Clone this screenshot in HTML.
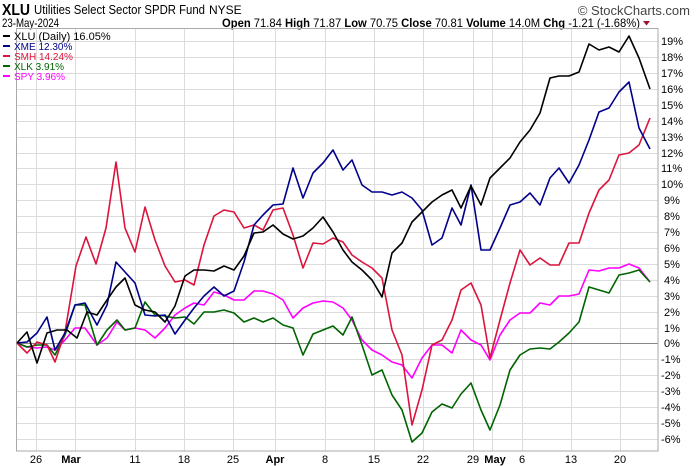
<!DOCTYPE html>
<html><head><style>
body{margin:0;background:#fff;}
svg{display:block;font-family:"Liberation Sans",sans-serif;}
</style></head><body>
<svg width="700" height="466" viewBox="0 0 700 466" xmlns="http://www.w3.org/2000/svg">
<rect width="700" height="466" fill="#fff"/>
<text x="2" y="15" font-size="16" font-weight="bold" fill="#000" textLength="28" lengthAdjust="spacingAndGlyphs">XLU</text>
<text x="34" y="14" font-size="13" fill="#000" textLength="171" lengthAdjust="spacingAndGlyphs">Utilities Select Sector SPDR Fund</text>
<text x="209" y="14" font-size="12" fill="#000">NYSE</text>
<text x="690" y="15" font-size="13" fill="#444" text-anchor="end">© StockCharts.com</text>
<text x="2" y="27" font-size="12" fill="#000" textLength="57" lengthAdjust="spacingAndGlyphs">23-May-2024</text>
<text x="222" y="27" font-size="12" fill="#000" textLength="418" lengthAdjust="spacingAndGlyphs"><tspan font-weight="bold">Open</tspan> 71.84 <tspan font-weight="bold">High</tspan> 71.87 <tspan font-weight="bold">Low</tspan> 70.75 <tspan font-weight="bold">Close</tspan> 70.81 <tspan font-weight="bold">Volume</tspan> 14.0M <tspan font-weight="bold">Chg</tspan> -1.21 (-1.68%)</text>
<path d="M643 21 l7 0 l-3.5 4.5z" fill="#a01030"/>
<g stroke="#dcdcdc" stroke-width="1">
<line x1="16" x2="658" y1="41.5" y2="41.5"/><line x1="16" x2="658" y1="57.5" y2="57.5"/><line x1="16" x2="658" y1="73.5" y2="73.5"/><line x1="16" x2="658" y1="89.5" y2="89.5"/><line x1="16" x2="658" y1="105.5" y2="105.5"/><line x1="16" x2="658" y1="121.5" y2="121.5"/><line x1="16" x2="658" y1="137.5" y2="137.5"/><line x1="16" x2="658" y1="153.5" y2="153.5"/><line x1="16" x2="658" y1="168.5" y2="168.5"/><line x1="16" x2="658" y1="184.5" y2="184.5"/><line x1="16" x2="658" y1="200.5" y2="200.5"/><line x1="16" x2="658" y1="216.5" y2="216.5"/><line x1="16" x2="658" y1="232.5" y2="232.5"/><line x1="16" x2="658" y1="248.5" y2="248.5"/><line x1="16" x2="658" y1="264.5" y2="264.5"/><line x1="16" x2="658" y1="280.5" y2="280.5"/><line x1="16" x2="658" y1="296.5" y2="296.5"/><line x1="16" x2="658" y1="312.5" y2="312.5"/><line x1="16" x2="658" y1="328.5" y2="328.5"/><line x1="16" x2="658" y1="359.5" y2="359.5"/><line x1="16" x2="658" y1="375.5" y2="375.5"/><line x1="16" x2="658" y1="391.5" y2="391.5"/><line x1="16" x2="658" y1="407.5" y2="407.5"/><line x1="16" x2="658" y1="423.5" y2="423.5"/><line x1="16" x2="658" y1="439.5" y2="439.5"/>
<line x1="36.5" x2="36.5" y1="28" y2="451"/><line x1="75.5" x2="75.5" y1="28" y2="451"/><line x1="135.5" x2="135.5" y1="28" y2="451"/><line x1="184.5" x2="184.5" y1="28" y2="451"/><line x1="233.5" x2="233.5" y1="28" y2="451"/><line x1="275.5" x2="275.5" y1="28" y2="451"/><line x1="325.5" x2="325.5" y1="28" y2="451"/><line x1="374.5" x2="374.5" y1="28" y2="451"/><line x1="423.5" x2="423.5" y1="28" y2="451"/><line x1="473.5" x2="473.5" y1="28" y2="451"/><line x1="492.5" x2="492.5" y1="28" y2="451"/><line x1="522.5" x2="522.5" y1="28" y2="451"/><line x1="571.5" x2="571.5" y1="28" y2="451"/><line x1="620.5" x2="620.5" y1="28" y2="451"/>
</g>
<line x1="16" x2="658" y1="343.5" y2="343.5" stroke="#888"/>
<rect x="16.5" y="28.5" width="641.5" height="422.5" fill="none" stroke="#aaa"/>
<g font-size="11" fill="#000">
<text x="661" y="45">19%</text><text x="661" y="61">18%</text><text x="661" y="77">17%</text><text x="661" y="93">16%</text><text x="661" y="109">15%</text><text x="661" y="125">14%</text><text x="661" y="141">13%</text><text x="661" y="157">12%</text><text x="661" y="172">11%</text><text x="661" y="188">10%</text><text x="664" y="204">9%</text><text x="664" y="220">8%</text><text x="664" y="236">7%</text><text x="664" y="252">6%</text><text x="664" y="268">5%</text><text x="664" y="284">4%</text><text x="664" y="300">3%</text><text x="664" y="316">2%</text><text x="664" y="332">1%</text><text x="664" y="347">0%</text><text x="661" y="363">-1%</text><text x="661" y="379">-2%</text><text x="661" y="395">-3%</text><text x="661" y="411">-4%</text><text x="661" y="427">-5%</text><text x="661" y="443">-6%</text>
</g>
<g font-size="11" fill="#000" text-anchor="middle">
<text x="36" y="463">26</text><text x="71" y="463" font-weight="bold">Mar</text><text x="135" y="463">11</text><text x="184" y="463">18</text><text x="233" y="463">25</text><text x="275" y="463" font-weight="bold">Apr</text><text x="325" y="463">8</text><text x="374" y="463">15</text><text x="423" y="463">22</text><text x="473" y="463">29</text><text x="495" y="463" font-weight="bold">May</text><text x="522" y="463">6</text><text x="571" y="463">13</text><text x="620" y="463">20</text>
</g>
<g fill="none" stroke-width="1.6" stroke-linejoin="round">
<polyline stroke="#ff00ff" points="17,343 27,347 37,348 47,347 55,350 65,340 75,328 85,328 97,345 107,338 117,322 125,330 135,328 145,330 155,338 165,328 175,315 185,308 194,303 204,305 214,292 224,295 234,300 244,300 254,291 263,291 273,294 283,300 293,318 303,308 313,303 323,301 333,302 343,308 352,320 362,340 372,350 382,355 392,362 402,365 412,378 422,358 432,345 442,345 452,353 461,330 471,340 481,345 490,360 500,335 510,320 520,313 530,313 540,303 550,305 559,296 569,296 579,294 589,270 599,271 609,268 619,268 629,264 639,268 650,282"/>
<polyline stroke="#006400" points="17,343 27,347 37,345 47,345 55,355 65,335 75,305 85,305 97,345 107,330 117,320 125,330 135,328 145,302 155,315 165,316 175,318 185,317 194,324 204,312 214,312 224,310 234,313 244,322 254,318 263,322 273,318 283,325 293,328 303,355 313,334 323,330 333,326 343,335 352,317 362,345 372,375 382,370 392,395 402,410 412,442 422,433 432,412 442,404 452,408 461,394 471,383 481,410 490,430 500,405 510,370 520,355 530,349 540,348 550,349 559,342 569,333 579,322 589,287 599,290 609,293 619,275 629,273 639,270 650,282"/>
<polyline stroke="#dc143c" points="17,343 27,353 37,342 47,345 55,362 65,332 76,266 86,237 96,264 106,228 116,162 125,228 135,252 145,207 155,240 165,266 175,282 185,280 194,285 204,245 214,216 224,210 234,212 244,228 254,225 263,230 273,210 283,208 293,235 303,268 313,243 323,244 333,238 343,242 352,255 362,262 372,268 382,278 392,330 402,355 412,425 422,390 432,345 442,340 452,320 461,290 471,283 481,305 490,358 500,320 510,283 520,250 530,265 540,258 550,265 559,265 569,243 579,243 589,213 599,190 609,180 619,155 629,153 639,145 650,118"/>
<polyline stroke="#00008b" points="17,343 27,342 37,333 47,317 55,350 65,333 75,305 85,303 97,325 107,305 116,262 125,272 135,283 145,315 155,316 165,315 175,334 185,320 194,308 204,296 214,287 224,296 234,291 244,262 254,225 263,215 273,205 283,204 293,168 303,198 313,173 323,163 333,150 343,170 352,160 362,185 372,192 382,192 392,195 402,192 412,198 422,210 432,245 442,238 452,208 461,225 471,185 481,250 490,250 500,228 510,205 520,202 530,193 540,205 550,178 559,168 569,183 579,165 589,140 599,112 609,108 619,92 629,82 639,128 650,149"/>
<polyline stroke="#000" points="17,343 27,332 37,363 47,333 57,330 67,330 77,338 87,312 97,315 107,300 116,287 125,278 135,305 145,310 155,312 165,322 175,306 185,276 194,270 204,270 214,271 224,266 234,270 244,256 254,233 263,232 273,225 283,234 293,239 303,236 313,228 323,217 333,232 343,250 352,262 362,270 372,280 382,297 392,253 402,243 412,222 422,212 432,202 442,195 452,190 461,208 471,186 481,205 490,178 500,168 510,158 520,142 530,130 540,113 550,78 559,76 569,76 579,72 589,44 599,50 609,47 619,52 629,36 639,58 650,89"/>
</g>
<g font-size="11">
<rect x="3" y="35" width="7" height="2" fill="#000"/><text x="14" y="40" fill="#000">XLU (Daily) 16.05%</text>
<rect x="3" y="45" width="7" height="2" fill="#00008b"/><text x="14" y="50" fill="#00008b" font-size="10">XME 12.30%</text>
<rect x="3" y="55" width="7" height="2" fill="#dc143c"/><text x="14" y="60" fill="#dc143c" font-size="10">SMH 14.24%</text>
<rect x="3" y="65" width="7" height="2" fill="#006400"/><text x="14" y="70" fill="#006400" font-size="10">XLK 3.91%</text>
<rect x="3" y="75" width="7" height="2" fill="#ff00ff"/><text x="14" y="80" fill="#ff00ff" font-size="10">SPY 3.96%</text>
</g>
</svg>
</body></html>
